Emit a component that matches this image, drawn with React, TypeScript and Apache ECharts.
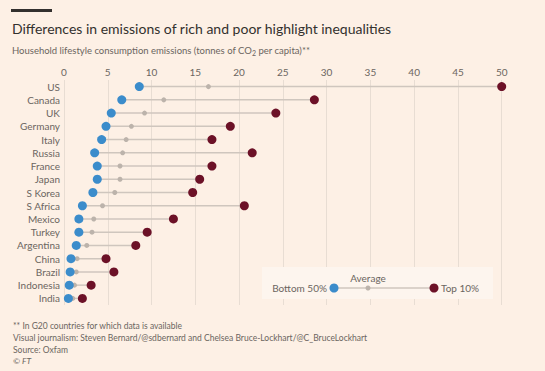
import React, { useEffect, useRef } from "react";
import * as echarts from "echarts";

const countries = ["US", "Canada", "UK", "Germany", "Italy", "Russia", "France", "Japan", "S Korea", "S Africa", "Mexico", "Turkey", "Argentina", "China", "Brazil", "Indonesia", "India"];
const bottom50 = [8.6, 6.6, 5.4, 4.8, 4.3, 3.5, 3.8, 3.8, 3.3, 2.1, 1.7, 1.7, 1.4, 0.8, 0.7, 0.6, 0.5];
const average = [16.5, 11.4, 9.2, 7.7, 7.1, 6.7, 6.4, 6.4, 5.8, 4.4, 3.4, 3.2, 2.6, 1.5, 1.4, 1.2, 1.0];
const top10 = [50, 28.6, 24.2, 19.0, 16.9, 21.5, 16.9, 15.5, 14.7, 20.6, 12.5, 9.5, 8.2, 4.8, 5.7, 3.1, 2.1];
const xTicks = [0, 5, 10, 15, 20, 25, 30, 35, 40, 45, 50];

const BG = "#fdf0e5";
const BLUE = "#3b8ccb";
const RED = "#6c1127";
const GREYDOT = "#bcb3ab";
const LINE = "#cfc6be";
const GRID = "#e8ddd3";
const TXT = "#6b6560";
const FONT = "Lato, 'Open Sans', sans-serif";

export default function App() {
  const ref = useRef<HTMLDivElement>(null);
  useEffect(() => {
    const chart = echarts.init(ref.current!, null, { renderer: "svg" });
    const rangeData = countries.map((c, i) => [i, bottom50[i], top10[i]]);
    chart.setOption({
      animation: false,
      backgroundColor: BG,
      textStyle: { fontFamily: FONT },
      grid: { left: 64, right: 43.3, top: 80, bottom: 66 },
      xAxis: {
        type: "value",
        position: "top",
        min: xTicks[0],
        max: xTicks[xTicks.length - 1],
        interval: 5,
        axisLine: { show: false },
        axisTick: { show: false },
        axisLabel: { color: TXT, fontSize: 10, margin: 3, fontFamily: FONT },
        splitLine: { show: true, lineStyle: { color: GRID, width: 1 } },
      },
      yAxis: {
        type: "category",
        data: countries,
        inverse: true,
        axisLine: { show: false },
        axisTick: { show: false },
        axisLabel: { color: TXT, fontSize: 10, margin: 4, fontFamily: FONT, interval: 0 },
        splitLine: { show: false },
      },
      series: [
        {
          type: "custom",
          data: rangeData,
          encode: { x: [1, 2], y: 0 },
          renderItem: (params: any, api: any) => {
            const a = api.coord([api.value(1), api.value(0)]);
            const b = api.coord([api.value(2), api.value(0)]);
            return {
              type: "line",
              shape: { x1: a[0], y1: a[1], x2: b[0], y2: b[1] },
              style: { stroke: LINE, lineWidth: 1.5 },
            };
          },
          z: 1,
        },
        {
          type: "scatter",
          data: average.map((v, i) => [v, i]),
          symbolSize: 5,
          itemStyle: { color: GREYDOT, opacity: 1 },
          z: 2,
        },
        {
          type: "scatter",
          data: top10.map((v, i) => [v, i]),
          symbolSize: 9,
          itemStyle: { color: RED, opacity: 1 },
          z: 3,
        },
        {
          type: "scatter",
          data: bottom50.map((v, i) => [v, i]),
          symbolSize: 9,
          itemStyle: { color: BLUE, opacity: 1 },
          z: 4,
        },
      ],
      graphic: [
        { type: "rect", shape: { x: 11, y: 9, width: 41, height: 3 }, style: { fill: "#33302e" } },
        {
          type: "text",
          x: 12,
          y: 28,
          style: {
            text: "Differences in emissions of rich and poor highlight inequalities",
            fill: "#33302e",
            font: `14px ${FONT}`,
            verticalAlign: "middle",
          },
        },
        {
          type: "text",
          x: 12,
          y: 50,
          style: {
            text: "Household lifestyle consumption emissions (tonnes of CO{sub|2} per capita)**",
            fill: TXT,
            fontFamily: FONT,
            fontSize: 9.5,
            verticalAlign: "middle",
            rich: { sub: { fontSize: 7, padding: [5, 0, 0, 0], fill: TXT, fontFamily: FONT } },
          },
        },
        {
          type: "rect",
          z: 100,
          shape: { x: 262, y: 267, width: 231, height: 32 },
          style: { fill: "#fdf5ee" },
        },
        {
          type: "line",
          z: 101,
          shape: { x1: 334, y1: 288, x2: 434, y2: 288 },
          style: { stroke: LINE, lineWidth: 1.5 },
        },
        { type: "circle", z: 102, shape: { cx: 334, cy: 288, r: 4.5 }, style: { fill: BLUE } },
        { type: "circle", z: 102, shape: { cx: 368, cy: 288, r: 2.5 }, style: { fill: GREYDOT } },
        { type: "circle", z: 102, shape: { cx: 434, cy: 288, r: 4.5 }, style: { fill: RED } },
        {
          type: "text", z: 102, x: 368, y: 278,
          style: { text: "Average", fill: TXT, font: `10px ${FONT}`, align: "center", verticalAlign: "middle" },
        },
        {
          type: "text", z: 102, x: 327, y: 288,
          style: { text: "Bottom 50%", fill: TXT, font: `10px ${FONT}`, align: "right", verticalAlign: "middle" },
        },
        {
          type: "text", z: 102, x: 441, y: 288,
          style: { text: "Top 10%", fill: TXT, font: `10px ${FONT}`, align: "left", verticalAlign: "middle" },
        },
        {
          type: "text", x: 13, y: 326,
          style: { text: "** In G20 countries for which data is available", fill: TXT, font: `8.5px ${FONT}`, verticalAlign: "middle" },
        },
        {
          type: "text", x: 13, y: 338,
          style: { text: "Visual journalism: Steven Bernard/@sdbernard and Chelsea Bruce-Lockhart/@C_BruceLockhart", fill: TXT, font: `8.5px ${FONT}`, verticalAlign: "middle" },
        },
        {
          type: "text", x: 13, y: 350,
          style: { text: "Source: Oxfam", fill: TXT, font: `8.5px ${FONT}`, verticalAlign: "middle" },
        },
        {
          type: "text", x: 13, y: 361,
          style: { text: "© FT", fill: TXT, font: `italic 8.5px ${FONT}`, verticalAlign: "middle" },
        },
      ],
    });
    return () => chart.dispose();
  }, []);
  return <div ref={ref} style={{ width: 545, height: 371, position: "fixed", left: 0, top: 0 }} />;
}
